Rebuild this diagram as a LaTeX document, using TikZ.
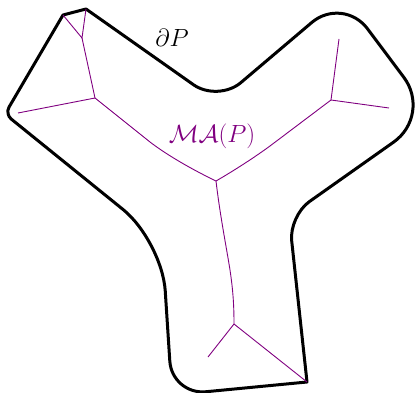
\documentclass[tikz,border=0pt]{standalone}
\usetikzlibrary{calc}
\definecolor{mapurple}{RGB}{128,0,128}
\begin{document}
\begin{tikzpicture}[x=1pt,y=-1pt,
  boundary/.style={line width=3pt,line join=round,black},
  axis/.style={line width=0.9pt,mapurple},
  lbl/.style={font=\fontsize{23}{27}\selectfont,inner sep=0pt}]
\useasboundingbox (0,0) rectangle (415,393);
% boundary vertices
\coordinate (p1) at (63,15);
\coordinate (p2) at (86,9);
\coordinate (v1) at (218,102);
\coordinate (v2) at (343,-4);
\coordinate (v3) at (432,115);
\coordinate (v4) at (289,216);
\coordinate (p3) at (307,382);
\coordinate (v5) at (172,395);
\coordinate (v6) at (162,241);
\coordinate (v7) at (5,114);
\draw[boundary] (p1) -- (p2)
 -- ($(v1)!30pt!(p2)$) .. controls ($(v1)!13.4pt!(p2)$) and ($(v1)!13.4pt!(v2)$) .. ($(v1)!30pt!(v2)$)
 -- ($(v2)!41pt!(v1)$) .. controls ($(v2)!18.4pt!(v1)$) and ($(v2)!18.4pt!(v3)$) .. ($(v2)!41pt!(v3)$)
 -- ($(v3)!47pt!(v2)$) .. controls ($(v3)!21pt!(v2)$) and ($(v3)!21pt!(v4)$) .. ($(v3)!47pt!(v4)$)
 -- ($(v4)!25pt!(v3)$) .. controls ($(v4)!11.2pt!(v3)$) and ($(v4)!11.2pt!(p3)$) .. ($(v4)!25pt!(p3)$)
 -- (p3)
 -- ($(v5)!34pt!(p3)$) .. controls ($(v5)!15.2pt!(p3)$) and ($(v5)!15.2pt!(v6)$) .. ($(v5)!34pt!(v6)$)
 -- ($(v6)!50pt!(v5)$) .. controls ($(v6)!22.4pt!(v5)$) and ($(v6)!22.4pt!(v7)$) .. ($(v6)!50pt!(v7)$)
 -- ($(v7)!8pt!(v6)$) .. controls ($(v7)!3.6pt!(v6)$) and ($(v7)!3.6pt!(p1)$) .. ($(v7)!8pt!(p1)$)
 -- cycle;
% medial axis
\coordinate (A) at (95,98);
\coordinate (B) at (82,38);
\coordinate (C) at (216,181);
\coordinate (D) at (331,100);
\coordinate (E) at (234,324);
\coordinate (a1) at (18,113);
\coordinate (d1) at (339,39);
\coordinate (d2) at (389,108);
\coordinate (e1) at (208,357);
\coordinate (ac) at (150,142);
\coordinate (cd) at (270,146);
\coordinate (ce) at (230,270);
\draw[axis] (p1) -- (B) -- (p2);
\draw[axis] (A) -- (B);
\draw[axis] (A) -- (a1);
\draw[axis] (A) -- (ac) .. controls (163,152) and (185,166) .. (C);
\draw[axis] (C) .. controls (235,170) and (255,157) .. (cd) -- (D);
\draw[axis] (D) -- (d1);
\draw[axis] (D) -- (d2);
\draw[axis] (C) .. controls (220,215) and (226,245) .. (ce) .. controls (233,290) and (234,305) .. (E);
\draw[axis] (E) -- (e1);
\draw[axis] (E) -- (p3);
% labels
\node[lbl] (dp) at (172,38) {$\partial P$};
\node[lbl,text=mapurple] (ma) at (212,136) {$\mathcal{MA}(P)$};
\end{tikzpicture}
\end{document}
